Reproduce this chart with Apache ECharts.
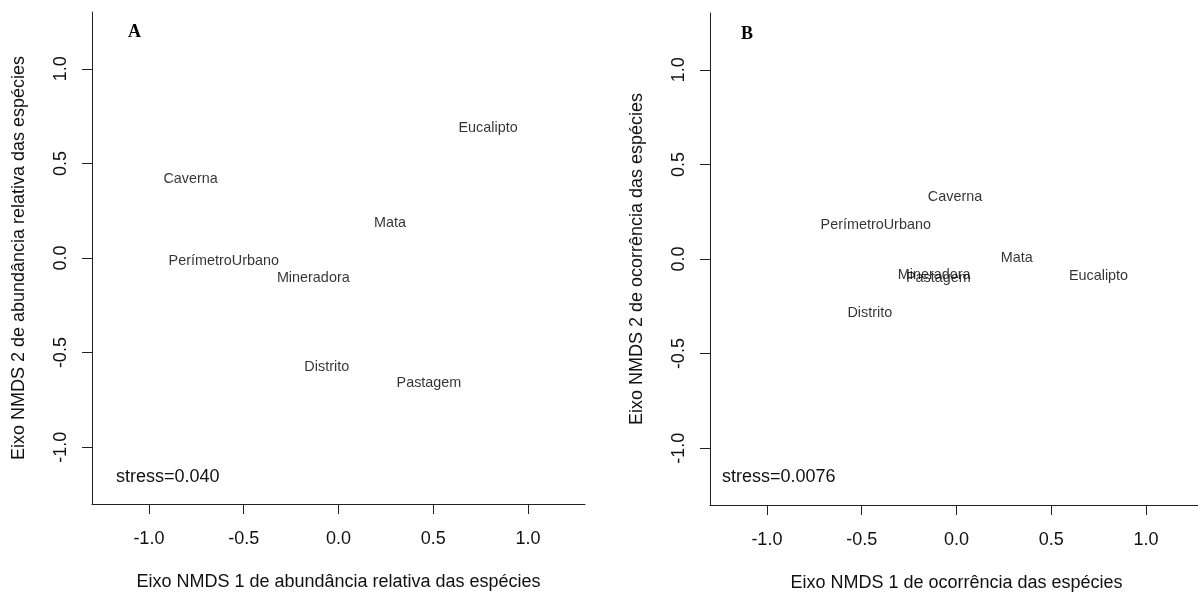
<!DOCTYPE html>
<html><head><meta charset="utf-8">
<script src="https://cdn.jsdelivr.net/npm/echarts@6/dist/echarts.min.js"></script>
<style>html,body{margin:0;padding:0;background:#fff}#c{width:1198px;height:592px}</style>
</head><body><div id="c"></div>
<script>
// Data
const sites = ['Caverna', 'PerímetroUrbano', 'Mineradora', 'Mata', 'Eucalipto', 'Distrito', 'Pastagem'];
const abundX = [-0.780, -0.605, -0.133, 0.272, 0.789, -0.062, 0.477];
const abundY = [0.416, -0.014, -0.107, 0.187, 0.687, -0.576, -0.660];
const occurX = [-0.008, -0.426, -0.118, 0.318, 0.749, -0.457, -0.096];
const occurY = [0.329, 0.177, -0.086, 0.007, -0.091, -0.284, -0.103];
const tickValues = [-1, -0.5, 0, 0.5, 1];
const panelLetters = ['A', 'B'];
const stressLabels = ['stress=0.040', 'stress=0.0076'];
const xNames = ['Eixo NMDS 1 de abundância relativa das espécies', 'Eixo NMDS 1 de ocorrência das espécies'];
const yNames = ['Eixo NMDS 2 de abundância relativa das espécies', 'Eixo NMDS 2 de ocorrência das espécies'];

const FONT = '"Liberation Sans", Arial, sans-serif';
const TXT = '#111';
const chart = echarts.init(document.getElementById('c'), null, {renderer: 'canvas'});

const grids = [
  {left: 92, top: 12, width: 493, height: 492, outerBoundsMode: 'none', containLabel: false},
  {left: 710, top: 13, width: 493, height: 492, outerBoundsMode: 'none', containLabel: false}
];

function xAxis(i) {
  return {
    gridIndex: i, type: 'value', min: -1.3, max: 1.3,
    name: xNames[i], nameLocation: 'middle', nameGap: 69,
    nameTextStyle: {fontFamily: FONT, fontSize: 18, color: TXT},
    axisLine: {show: true, onZero: false, lineStyle: {color: '#222', width: 1}},
    axisTick: {show: true, inside: false, length: 10, customValues: tickValues, lineStyle: {color: '#222'}},
    axisLabel: {show: true, customValues: tickValues, margin: 26, fontFamily: FONT, fontSize: 18, color: TXT,
      formatter: v => Number(v).toFixed(1)},
    splitLine: {show: false}
  };
}
function yAxis(i) {
  return {
    gridIndex: i, type: 'value', min: -1.3, max: 1.3,
    name: yNames[i], nameLocation: 'middle', nameGap: 64, nameRotate: 90,
    nameTextStyle: {fontFamily: FONT, fontSize: 18, color: TXT},
    axisLine: {show: true, onZero: false, lineStyle: {color: '#222', width: 1}},
    axisTick: {show: true, inside: false, length: 10, customValues: tickValues, lineStyle: {color: '#222'}},
    axisLabel: {show: true, customValues: tickValues, rotate: 90, margin: 22, fontFamily: FONT, fontSize: 18, color: TXT,
      formatter: v => Number(v).toFixed(1)},
    splitLine: {show: false}
  };
}
function series(i, xs, ys) {
  return {
    type: 'scatter', xAxisIndex: i, yAxisIndex: i,
    symbol: 'circle', symbolSize: 1, itemStyle: {color: 'rgba(0,0,0,0)'},
    silent: true, animation: false,
    label: {show: true, position: 'inside', formatter: p => p.name, fontFamily: FONT, fontSize: 14.4, color: '#000',
      align: 'center', verticalAlign: 'middle'},
    labelLayout: {hideOverlap: false},
    data: sites.map((s, k) => ({name: s, value: [xs[k], ys[k]]}))
  };
}

const option = {
  backgroundColor: '#fff',
  animation: false,
  grid: grids,
  xAxis: [xAxis(0), xAxis(1)],
  yAxis: [yAxis(0), yAxis(1)],
  title: [
    {text: panelLetters[0], left: 128, top: 23, textStyle: {fontFamily: '"Liberation Serif", "Times New Roman", serif', fontWeight: 'bold', fontSize: 18, color: '#000'}, padding: 0},
    {text: panelLetters[1], left: 741, top: 25, textStyle: {fontFamily: '"Liberation Serif", "Times New Roman", serif', fontWeight: 'bold', fontSize: 18, color: '#000'}, padding: 0},
    {text: stressLabels[0], left: 116, top: 468, textStyle: {fontFamily: FONT, fontWeight: 'normal', fontSize: 18, color: TXT}, padding: 0},
    {text: stressLabels[1], left: 722, top: 468, textStyle: {fontFamily: FONT, fontWeight: 'normal', fontSize: 18, color: TXT}, padding: 0}
  ],
  series: [series(0, abundX, abundY), series(1, occurX, occurY)]
};
chart.setOption(option);
</script>
</body></html>
